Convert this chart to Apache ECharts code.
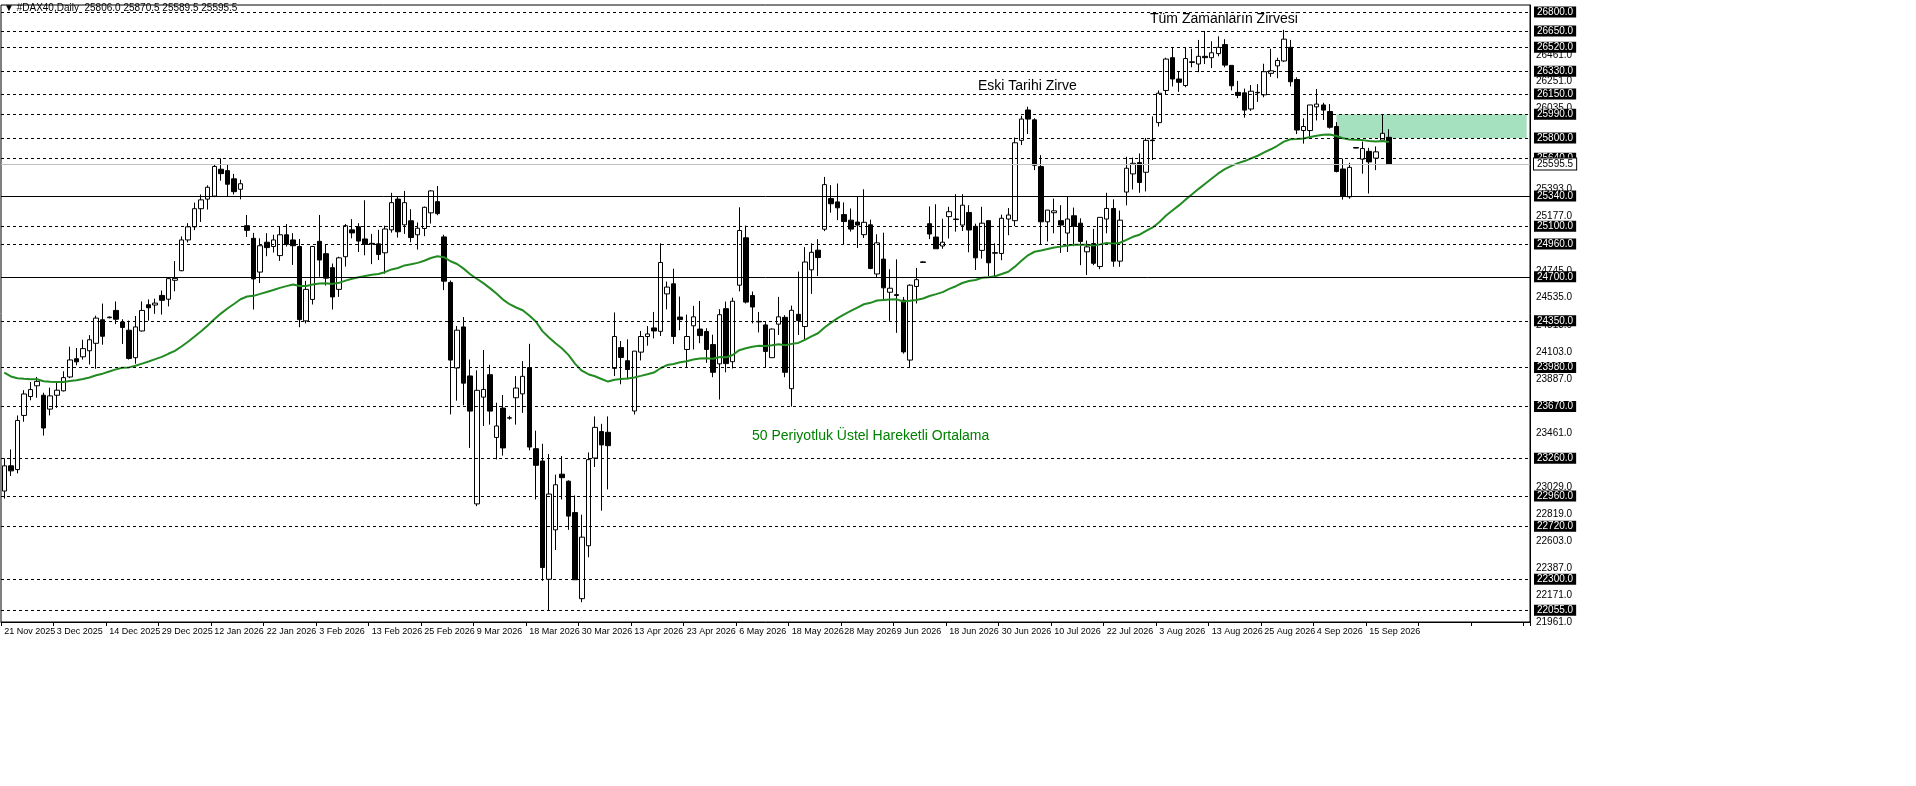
<!DOCTYPE html>
<html>
<head>
<meta charset="utf-8">
<script src="https://cdn.jsdelivr.net/npm/echarts@6/dist/echarts.min.js"></script>
<style>
  html, body { margin: 0; padding: 0; background: #fff; }
  #chart { width: 1916px; height: 786px; }
</style>
</head>
<body>
<div id="chart"></div>
<script>
// DAX40 daily, OHLC
const opens = [23000,23200,23170,23600,23750,23835,23760,23650,23760,23795,23905,24050,24065,24113,24172,24359,24375,24433,24341,24276,
  24058,24270,24478,24476,24552,24522,24672,24748,24992,25096,25240,25316,25340,25553,25542,25477,25394,25105,25005,24737,
  24974,24940,24868,25033,24992,24940,24350,24520,24981,24883,24772,24600,24859,25072,25096,25000,24965,24961,24890,25072,
  25316,25112,25144,25033,25083,25207,25296,25016,24655,23976,24302,23913,22898,23745,23923,23425,23658,23578,23740,23771,
  23980,23336,23238,22300,22692,23134,23078,22829,22146,22566,23262,23472,23466,23973,24138,24034,23635,24102,24226,24294,
  24267,24564,24644,24380,24123,24311,24285,24266,24162,24009,24447,24026,24633,25009,24551,24346,24318,24058,24324,24378,
  23812,24402,24305,24755,24911,25077,25320,25294,25193,25149,25134,25034,25112,24722,24840,24577,24558,24514,24039,24623,
  24818,25121,25015,24944,25177,25158,25110,25210,25100,24909,25145,24891,24885,25158,25145,25782,26023,25945,25574,25136,
  25208,25145,25047,25184,25125,24898,24963,24781,25158,25242,24824,25372,25516,25606,25529,25784,25923,26178,26438,26269,
  26217,26405,26388,26449,26438,26470,26542,26377,26163,26159,26031,26163,26143,26314,26373,26412,26520,26265,25860,25860,
  26048,26063,26011,25892,25555,25334,25725,25633,25695,25641,25784,25806];
const highs = [23260,23330,23600,23800,23865,23905,23780,23820,23865,23950,24145,24135,24200,24237,24391,24487,24385,24504,24363,24352,
  24389,24504,24520,24526,24591,24690,24824,25020,25125,25288,25353,25425,25592,25640,25588,25516,25470,25190,25048,25005,
  25046,25033,25096,25118,25046,25000,24668,24945,25190,24959,24805,24859,25118,25157,25125,25307,25040,25072,25105,25366,
  25333,25381,25236,25131,25257,25388,25420,25033,24670,24309,24380,24043,23958,24119,24002,23701,23762,23597,23913,24031,
  24168,23479,23375,23293,23130,23277,23085,22965,22812,23306,23592,23533,23592,24417,24190,24203,24110,24270,24309,24421,
  24965,24662,24764,24543,24400,24469,24508,24292,24240,24443,24503,24534,25251,25106,24583,24421,24340,24290,24540,24395,
  24471,24741,24935,24965,24998,25492,25427,25440,25290,25242,25338,25394,25153,25037,25050,24760,24838,24540,24640,24770,
  24822,25258,25275,25160,25255,25355,25355,25268,25121,25255,25145,24965,25193,25245,25804,25977,26049,25958,25665,25229,
  25320,25268,25338,25249,25164,24987,25080,25171,25366,25314,25225,25652,25645,25678,25801,25972,26178,26438,26520,26330,
  26520,26509,26579,26650,26568,26607,26585,26377,26254,26193,26221,26228,26390,26509,26438,26659,26579,26282,25957,26063,
  26189,26080,26070,25927,25637,25604,25728,25773,25723,25734,25988,25870.5];
const lows = [22940,23120,23140,23550,23720,23740,23440,23600,23660,23790,23895,23998,24043,24004,23970,24161,24370,24324,24167,24043,
  24010,24265,24352,24406,24400,24465,24585,24744,24972,25070,25135,25233,25331,25462,25340,25353,25314,25016,24440,24650,
  24863,24892,24826,24940,24794,24300,24330,24480,24700,24630,24440,24540,24781,25005,24896,24870,24800,24833,24724,25050,
  25011,25040,24974,24916,25022,25122,25188,24594,23608,23717,23680,23342,22880,23516,23527,23251,23281,23566,23527,23620,
  23323,22933,22287,22055,22532,22933,22692,22296,22118,22475,23191,22844,23013,23912,23847,23886,23607,24036,24153,24211,
  24230,24441,24166,24276,23982,24123,24173,24017,23903,23726,23942,23972,24584,24488,24330,24259,23983,24055,24238,23903,
  23670,24238,24201,24564,24705,25062,25208,25149,24954,25058,24928,25008,24760,24690,24518,24350,24255,24090,23983,24488,
  24810,24998,24922,24922,25004,25058,25063,24894,24753,24844,24703,24703,24831,25030,25102,25745,25832,25546,24954,24980,
  25045,24889,24896,24943,24792,24714,24792,24760,25045,24779,24779,25266,25392,25366,25377,25626,25892,26146,26210,26167,
  26204,26362,26323,26388,26356,26449,26362,26178,26117,25962,26016,26087,26124,26286,26275,26405,26210,25832,25756,25810,
  25940,25944,25875,25528,25312,25319,25718,25518,25360,25546,25771,25589.5];
const closes = [23200,23160,23560,23770,23805,23870,23500,23755,23800,23900,24040,24025,24130,24200,24372,24228,24380,24363,24298,24052,
  24302,24433,24454,24491,24513,24685,24687,24992,25096,25240,25310,25410,25575,25518,25434,25375,25438,25068,24683,24946,
  24931,24992,25033,24957,24946,24360,24600,24940,24833,24689,24540,24850,25105,25048,24983,24957,24960,24877,25079,25288,
  25057,25288,25011,25085,25251,25381,25201,24665,24039,24276,23856,23634,23799,23806,23634,23516,23342,23582,23817,23910,
  23349,23204,22393,22976,23050,23106,22801,22296,22634,23249,23505,23366,23360,24226,24060,23964,24110,24226,24246,24270,
  24813,24618,24226,24360,24226,24382,24233,24123,23942,24399,24011,24506,25067,24499,24460,24342,24108,24285,24382,23942,
  24434,24352,24817,24894,24852,25431,25279,25247,25138,25078,25110,25132,24766,24969,24612,24609,24552,24104,24633,24677,
  24814,25039,24922,24974,25216,25154,25268,25071,24850,25125,24811,24887,25164,25190,25763,25951,25951,25585,25136,25229,
  25223,25110,25158,25100,24980,24937,24807,25171,25242,24824,25149,25561,25600,25448,25782,25780,26156,26427,26269,26243,
  26431,26401,26449,26438,26477,26520,26379,26215,26139,26022,26172,26159,26327,26334,26416,26585,26247,25864,25892,26063,
  26070,26022,25886,25535,25340,25568,25721,25717,25611,25691,25838,25595.5];

const tickLabels = ['21 Nov 2025','3 Dec 2025','14 Dec 2025','29 Dec 2025','12 Jan 2026','22 Jan 2026','3 Feb 2026','13 Feb 2026',
  '25 Feb 2026','9 Mar 2026','18 Mar 2026','30 Mar 2026','13 Apr 2026','23 Apr 2026','6 May 2026','18 May 2026','28 May 2026',
  '9 Jun 2026','18 Jun 2026','30 Jun 2026','10 Jul 2026','22 Jul 2026','3 Aug 2026','13 Aug 2026','25 Aug 2026','4 Sep 2026','15 Sep 2026'];

const dashedLevels = [26800,26650,26520,26330,26150,25990,25800,25640,25100,24960,24350,23980,23670,23260,22960,22720,22300,22055];
const solidLevels = [25340,24700];
const lastPrice = 25595.5;
const plainTicks = [26461,26251,26035,25393,25177,24745,24535,24313,24103,23887,23461,23029,22819,22603,22387,22171,21961];
const emaSeed = 23970;
const emaPeriod = 50;
const zone = [25800, 25990];
const zoneStart = 203;
const extraBars = 21;

const total = closes.length + extraBars;
const cats = [];
for (let i = 0; i < total; i++) cats.push(String(i));

const candles = opens.map((o, i) => [o, closes[i], lows[i], highs[i]]);

const k = 2 / (emaPeriod + 1);
let e = emaSeed;
const ema = closes.map(c => { e = c * k + e * (1 - k); return +e.toFixed(1); });

const fmt = v => v.toFixed(1);
const boxLabel = v => ({ show: true, position: 'end', formatter: fmt(v), color: '#fff', backgroundColor: '#000', padding: [1, 3, 0, 3], fontSize: 10, distance: 4 });
const marks = [];
plainTicks.forEach(v => marks.push({
  yAxis: v,
  lineStyle: { color: 'rgba(0,0,0,0)', width: 0 },
  label: { show: true, position: 'end', formatter: fmt(v), color: '#000', fontSize: 10, distance: 6 }
}));
dashedLevels.forEach(v => marks.push({ yAxis: v, lineStyle: { color: '#000', type: [3, 3], width: 1 }, label: boxLabel(v) }));
solidLevels.forEach(v => marks.push({ yAxis: v, lineStyle: { color: '#000', type: 'solid', width: 1 }, label: boxLabel(v) }));
marks.push({
  yAxis: lastPrice,
  lineStyle: { color: '#c0c0c0', type: 'solid', width: 1 },
  label: { show: true, position: 'end', formatter: fmt(lastPrice), color: '#000', backgroundColor: '#fff', borderColor: '#000', borderWidth: 1, padding: [1, 3, 0, 3], fontSize: 10, distance: 4 }
});

const every8 = i => i % 8 === 0;

const chart = echarts.init(document.getElementById('chart'));
chart.setOption({
  animation: false,
  backgroundColor: '#fff',
  textStyle: { fontFamily: 'Liberation Sans, Arial, sans-serif' },
  grid: { left: 1, right: 386, top: 5, bottom: 164, show: true, borderColor: '#000', borderWidth: 1 },
  xAxis: {
    type: 'category',
    data: cats,
    boundaryGap: true,
    axisLine: { lineStyle: { color: '#000' } },
    axisTick: { show: true, interval: every8, length: 4, lineStyle: { color: '#000' } },
    axisLabel: {
      interval: every8, align: 'left', margin: 5, fontSize: 9, color: '#000',
      showMinLabel: true, hideOverlap: false,
      formatter: (v, i) => tickLabels[i / 8] || ''
    },
    splitLine: { show: false }
  },
  yAxis: {
    type: 'value',
    position: 'right',
    min: 21961,
    max: 26856,
    axisLine: { show: true, lineStyle: { color: '#000' } },
    axisLabel: { show: false },
    axisTick: { show: false },
    splitLine: { show: false }
  },
  series: [
    {
      type: 'candlestick',
      data: candles,
      barWidth: 5,
      z: 3,
      itemStyle: { color: '#fff', color0: '#000', borderColor: '#000', borderColor0: '#000', borderWidth: 1 },
      markLine: { silent: true, symbol: ['none', 'none'], data: marks },
      markArea: {
        silent: true,
        itemStyle: { color: 'rgba(150,220,180,0.85)' },
        data: [[{ xAxis: String(zoneStart), yAxis: zone[1] }, { xAxis: String(total - 1), yAxis: zone[0] }]]
      }
    },
    {
      type: 'line',
      data: ema,
      showSymbol: false,
      z: 4,
      lineStyle: { color: '#228b22', width: 2 }
    }
  ],
  graphic: [
    { type: 'text', left: 4, top: 3, style: { text: '▼ #DAX40,Daily  25806.0 25870.5 25589.5 25595.5', fontSize: 10, fill: '#000', fontFamily: 'Liberation Sans' } },
    { type: 'text', left: 1150, top: 12, style: { text: 'Tüm Zamanların Zirvesi', fontSize: 14, fill: '#000', fontFamily: 'Liberation Sans' } },
    { type: 'text', left: 978, top: 79, style: { text: 'Eski Tarihi Zirve', fontSize: 14, fill: '#000', fontFamily: 'Liberation Sans' } },
    { type: 'text', left: 752, top: 429, style: { text: '50 Periyotluk Üstel Hareketli Ortalama', fontSize: 14, fill: '#008000', fontFamily: 'Liberation Sans' } }
  ]
});
</script>
</body>
</html>
